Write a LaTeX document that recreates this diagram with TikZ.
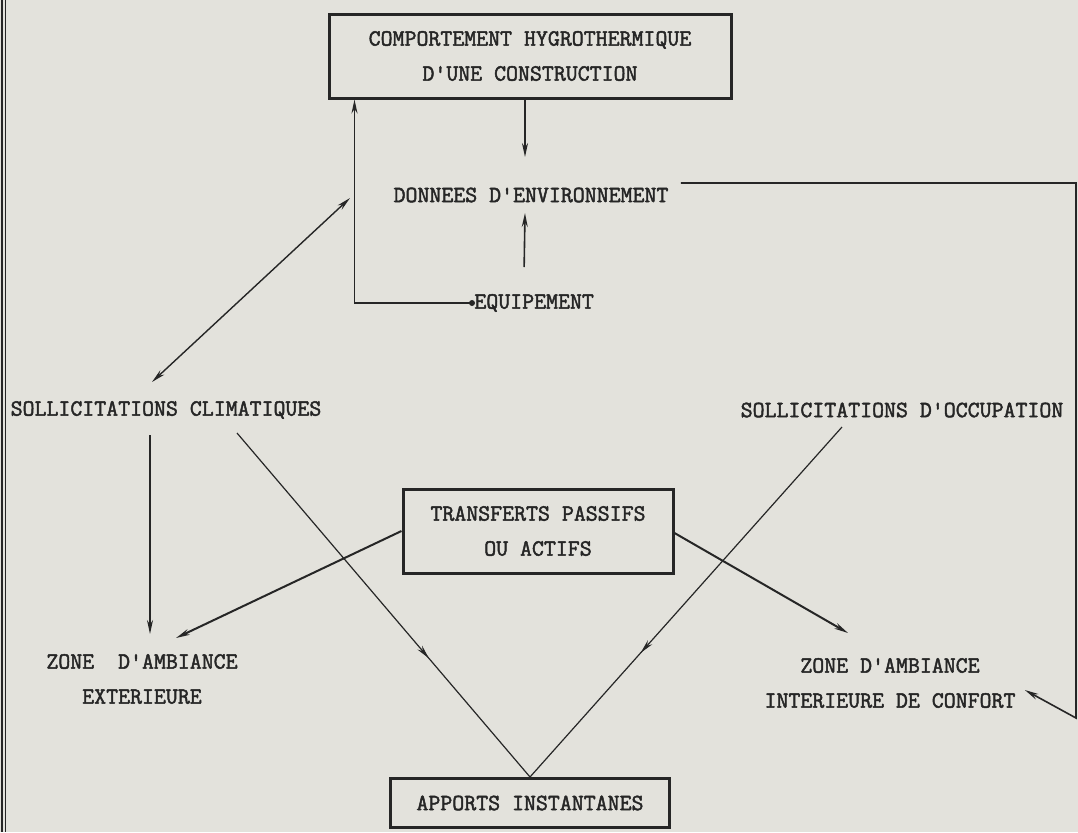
\documentclass[tikz,border=0pt]{standalone}
\usepackage{fontspec}
\setmonofont{Latin Modern Mono}[UprightFeatures={FakeBold=2}]
\usetikzlibrary{arrows.meta,decorations.markings}
\definecolor{paper}{HTML}{E3E2DC}
\definecolor{ink}{HTML}{262626}

\begin{document}
\begin{tikzpicture}[x=0.5pt,y=-0.5pt,>={Stealth[length=7pt,width=3pt]},
  every node/.style={font=\ttfamily\fontsize{11.6}{17.5}\selectfont,text=ink,inner sep=0pt},
  framebox/.style={draw=ink,line width=1.5pt,align=center},
  flow/.style={draw=ink,line width=0.8pt,->},
  thinflow/.style={draw=ink,line width=0.6pt},
  midarrow/.style={postaction={decorate},decoration={markings,mark=at position #1 with {\arrow{>}}}}]

% Paper
\fill[paper] (0,0) rectangle (1078,832);
\useasboundingbox (0,0) rectangle (1078,832);
\draw[ink,line width=1pt] (2,0) -- (2,832);
\draw[ink,line width=0.4pt] (5,0) -- (5,832);

% Boxes and labels
\node[framebox,minimum width=201pt,minimum height=42pt] (comport) at (530,56) {COMPORTEMENT HYGROTHERMIQUE\\D'UNE CONSTRUCTION};
\node (donnees) at (531,195) {DONNEES D'ENVIRONNEMENT};
\node[anchor=west] (equip) at (474,303) {EQUIPEMENT};
\node (climat) at (166,410) {SOLLICITATIONS CLIMATIQUES};
\node (occup) at (902,410) {SOLLICITATIONS D'OCCUPATION};
\node[framebox,minimum width=135pt,minimum height=42pt] (transf) at (538,531) {TRANSFERTS PASSIFS\\OU ACTIFS};
\node[align=center] (zext) at (142,679) {ZONE\ \ D'AMBIANCE\\EXTERIEURE};
\node[align=center] (zint) at (890,683) {ZONE D'AMBIANCE\\INTERIEURE DE CONFORT};
\node[framebox,minimum width=139.5pt,minimum height=24.5pt] (apports) at (530,803) {APPORTS INSTANTANES};

% Top part
\draw[flow] ([xshift=-2.5pt]comport.south) -- ([shift={(-6,-38)}]donnees.center);
\draw[flow] ([shift={(-10,-36)}]equip.center) -- ([shift={(-6,18)}]donnees.center);
\draw[flow] (equip.west) -| ([xshift=13.5pt]comport.south west);
\fill[ink] ([xshift=-1pt]equip.west) circle (1.5pt);

% Loop along the right edge
\coordinate (rim) at (1076,718);
\draw[flow] ([shift={(12,-12)}]donnees.east) -| (rim) -- ([shift={(9,7)}]zint.east);

% Sollicitations
\draw[flow,<->,line width=0.7pt] ([shift={(-14,-28)}]climat.center) -- ([shift={(-181,3)}]donnees.center);
\draw[flow] ([shift={(-16,25)}]climat.center) -- ([shift={(8,-45)}]zext.center);
\draw[thinflow,midarrow=0.655] ([shift={(71,23)}]climat.center) -- (apports.north);
\draw[thinflow,midarrow=0.645] ([shift={(-60,17)}]occup.center) -- (apports.north);

% Transferts
\draw[flow,line width=1pt] (transf.west) -- ([shift={(34,-41)}]zext.center);
\draw[flow,line width=1pt] ([yshift=-1pt]transf.east) -- ([shift={(-42,-50)}]zint.center);

\end{tikzpicture}
\end{document}
